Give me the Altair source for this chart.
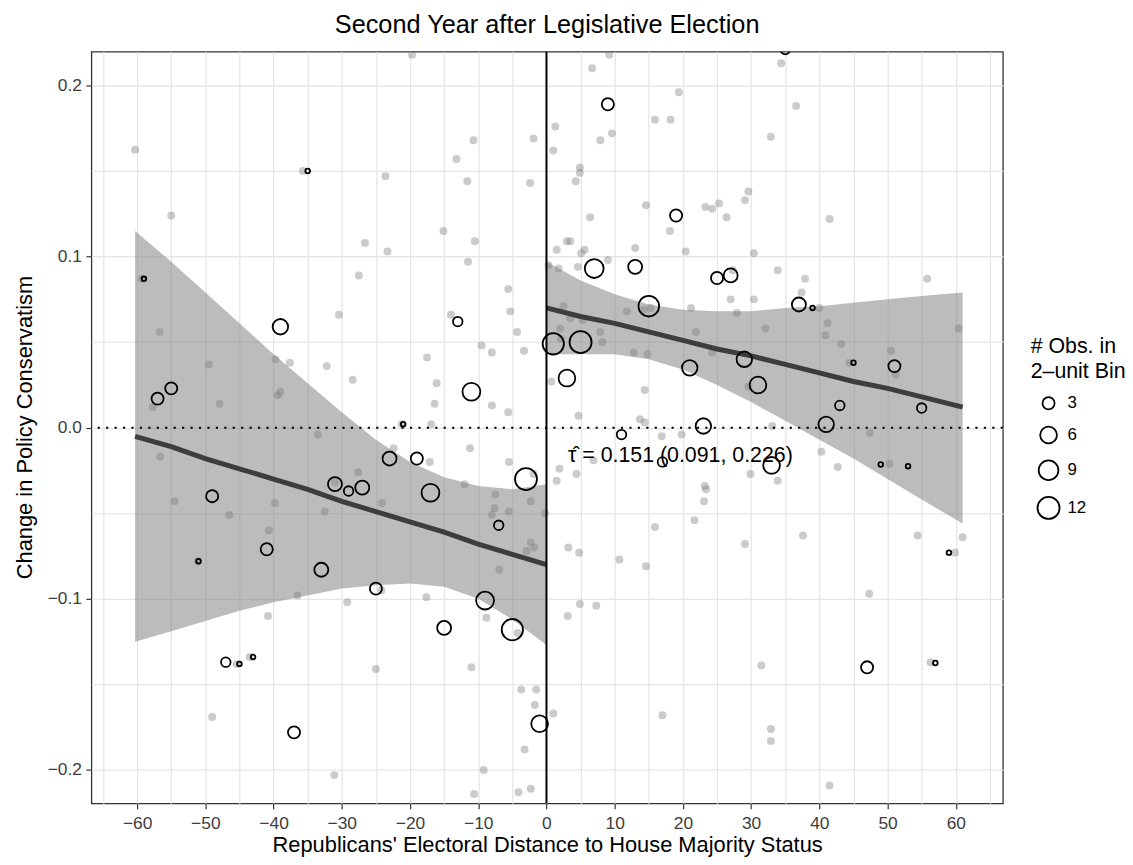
import altair as alt
import pandas as pd

FONT = "Liberation Sans"

# ---- binned means (2-unit bins) ----
bin_x = [-59, -57, -55, -51, -49, -47, -45, -43, -41, -39, -37, -35, -33, -31, -29, -27, -25, -23, -21, -19,
         -17, -15, -13, -11, -9, -7, -5, -3, -1,
         1, 3, 5, 7, 9, 11, 13, 15, 17, 19, 21, 23, 25, 27, 29, 31, 33, 35, 37, 39,
         41, 43, 45, 47, 49, 51, 53, 55, 57, 59]
bin_y = [0.087, 0.017, 0.023, -0.078, -0.040, -0.137, -0.138, -0.134, -0.071, 0.059,
         -0.178, 0.150, -0.083, -0.033, -0.037, -0.035, -0.094, -0.018, 0.002, -0.018,
         -0.038, -0.117, 0.062, 0.021, -0.101, -0.057, -0.118, -0.030, -0.173,
         0.049, 0.029, 0.050, 0.093, 0.189, -0.004, 0.094, 0.071, -0.020, 0.124,
         0.035, 0.001, 0.0875, 0.089, 0.040, 0.025, -0.022, 0.221, 0.072, 0.070,
         0.002, 0.013, 0.038, -0.140, -0.0215, 0.036, -0.0225, 0.0115, -0.1375, -0.073]
bin_n = [1, 3, 3, 1, 3, 2, 1, 1, 3, 5, 3, 1, 4, 4, 2, 4, 3, 4, 1, 3, 7, 4, 2, 7, 7, 2, 11, 12, 6,
         11, 6, 12, 8, 3, 2, 4, 10, 2, 3, 5, 5, 3, 4, 5, 6, 6, 2, 4, 1, 5, 2, 1, 3, 1, 3, 1, 2, 1, 1]

# ---- raw observations ----
obs_x = [-60.3, -55.0, -35.7, -23.6, -26.6, -27.5, -30.4, -23.3, -59.3, -56.7, -49.5, -47.9, -57.7, -39.7,
         -37.6, -39.4, -39.0, -32.2, -28.4, -33.5, -19.7, -10.7, -13.2, -11.6, -1.9, -2.4, -15.1, -10.5,
         -11.5, -5.6, -5.3, -14.0, -4.3, -9.5, -8.0, -3.3, -17.5, -16.1, -16.4, -8.0, -5.6, -16.9, -21.2,
         -56.6, -54.5, -46.5, -39.8, -40.7, -32.5, -27.6, -31.0, -24.1, -51.1, -36.5, -29.2, -40.8, -24.2,
         -43.5, -45.4, -25.0, -49.0, -31.1, -22.4, -11.2, -17.1, -5.5, -1.9, -12.0, -7.5, -7.6, -8.0, -5.5,
         -2.3, -0.2, -2.3, -2.9, -1.8, -6.9, -17.6, -8.8, -4.2, -11.0, -3.7, -1.5, -1.7, -3.2, -9.2, -10.6,
         -4.1, -2.3,
         9.2, 6.7, 1.3, 1.0, 9.6, 7.9, 15.9, 4.9, 4.9, 4.3, 14.6, 6.4, 3.0, 3.5, 1.5, 5.1, 5.6, 13.0, 9.0,
         4.6, 0.3, 1.8, 2.5, 3.5, 5.3, 2.0, 2.1, 7.9, 8.2, 11.8, 14.3, 15.3, 12.8, 14.8, 0.7, 4.7, 14.4,
         13.7, 14.4, 16.9, 34.4, 19.4, 18.2, 36.6, 32.9, 23.3, 24.3, 25.3, 26.4, 29.6, 29.1, 18.1, 20.4,
         30.4, 41.5, 27.3, 33.9, 37.9, 37.4, 27.0, 30.4, 27.9, 21.2, 21.9, 32.1, 40.0, 41.2, 40.9, 43.2,
         50.5, 51.2, 55.8, 60.4, 24.3, 29.6, 44.4, 19.8, 33.1, 47.4, 1.5, 1.9, 4.4, 6.9, 3.2, 4.8, 10.7,
         14.6, 15.9, 4.9, 7.3, 3.1, 1.0, 17.0, 40.3, 42.7, 29.9, 33.9, 23.2, 23.4, 23.1, 21.7, 29.1, 37.6,
         50.3, 54.4, 61.0, 59.9, 47.3, 31.5, 56.3, 32.9, 32.9, 41.5]
obs_y = [0.1625, 0.124, 0.150, 0.147, 0.108, 0.089, 0.066, 0.103, 0.087, 0.056, 0.037, 0.014, 0.012, 0.040,
         0.038, 0.019, 0.021, 0.036, 0.028, -0.004, 0.218, 0.168, 0.157, 0.144, 0.169, 0.143, 0.115, 0.109,
         0.097, 0.081, 0.068, 0.066, 0.056, 0.048, 0.044, 0.045, 0.041, 0.026, 0.014, 0.013, 0.009, 0.002, 0.002,
         -0.017, -0.043, -0.051, -0.044, -0.060, -0.049, -0.026, -0.032, -0.044, -0.078, -0.098, -0.102, -0.110, -0.095,
         -0.134, -0.138, -0.141, -0.169, -0.203, -0.012, -0.012, -0.020, -0.020, -0.027, -0.033, -0.039, -0.047, -0.051, -0.049,
         -0.043, -0.050, -0.067, -0.072, -0.070, -0.083, -0.099, -0.111, -0.120, -0.140, -0.153, -0.153, -0.162, -0.188, -0.200, -0.214,
         -0.213, -0.211,
         0.218, 0.210, 0.176, 0.162, 0.172, 0.168, 0.180, 0.152, 0.149, 0.144, 0.130, 0.123, 0.109, 0.109, 0.104, 0.102, 0.104, 0.105, 0.098,
         0.094, 0.095, 0.093, 0.071, 0.064, 0.063, 0.058, 0.052, 0.056, 0.050, 0.068, 0.069, 0.070, 0.044, 0.043, 0.027, 0.007, 0.022,
         0.005, 0.003, -0.005, 0.213, 0.196, 0.180, 0.188, 0.170, 0.129, 0.128, 0.131, 0.123, 0.138, 0.133, 0.115, 0.103,
         0.102, 0.122, 0.092, 0.092, 0.087, 0.079, 0.075, 0.075, 0.067, 0.070, 0.056, 0.058, 0.070, 0.061, 0.054, 0.049,
         0.045, 0.031, 0.087, 0.058, 0.044, 0.024, 0.038, -0.004, 0.001, -0.003, -0.031, -0.024, -0.027, -0.019, -0.070, -0.073, -0.077,
         -0.081, -0.058, -0.103, -0.104, -0.110, -0.167, -0.168, -0.014, -0.023, -0.027, -0.031, -0.034, -0.036, -0.043, -0.054, -0.068, -0.063,
         -0.021, -0.063, -0.064, -0.073, -0.097, -0.139, -0.137, -0.176, -0.183, -0.209]

# ---- local linear fits with 95% bands ----
left_x = [-60.3, -55, -50, -45, -40, -35, -30, -25, -20, -15, -10, -5, 0]
left_fit = [-0.005, -0.011, -0.018, -0.024, -0.030, -0.036, -0.043, -0.049, -0.055, -0.061, -0.068, -0.074, -0.080]
left_hi = [0.115, 0.097, 0.079, 0.061, 0.043, 0.026, 0.009, -0.007, -0.020, -0.029, -0.034, -0.036, -0.033]
left_lo = [-0.125, -0.119, -0.113, -0.107, -0.102, -0.098, -0.094, -0.092, -0.091, -0.093, -0.100, -0.112, -0.127]

right_x = [0, 5, 10, 15, 20, 25, 30, 35, 40, 45, 50, 55, 61]
right_fit = [0.070, 0.065, 0.061, 0.056, 0.051, 0.046, 0.042, 0.037, 0.032, 0.027, 0.023, 0.018, 0.012]
right_hi = [0.097, 0.086, 0.078, 0.072, 0.069, 0.068, 0.068, 0.070, 0.071, 0.073, 0.075, 0.077, 0.079]
right_lo = [0.043, 0.043, 0.043, 0.040, 0.034, 0.025, 0.015, 0.004, -0.007, -0.018, -0.030, -0.042, -0.056]

ann_x = [3.15]
ann_y = [-0.0199]
ann_text = ["\u03c4\u0302 = 0.151 (0.091, 0.226)"]

x_grid = [-65, -60, -55, -50, -45, -40, -35, -30, -25, -20, -15, -10, -5, 0,
          5, 10, 15, 20, 25, 30, 35, 40, 45, 50, 55, 60, 65]
y_grid = [-0.2, -0.15, -0.1, -0.05, 0.0, 0.05, 0.1, 0.15, 0.2]

# ---- tables ----
bins = pd.DataFrame({"x": bin_x, "y": bin_y, "n": bin_n})
obs = pd.DataFrame({"x": obs_x, "y": obs_y})
fit = pd.DataFrame({
    "x": left_x + right_x,
    "fit": left_fit + right_fit,
    "lo": left_lo + right_lo,
    "hi": left_hi + right_hi,
    "side": ["left"] * len(left_x) + ["right"] * len(right_x),
})
ann = pd.DataFrame({"x": ann_x, "y": ann_y, "t": ann_text})
zero = pd.DataFrame({"z": [0]})

xs = alt.Scale(domain=[-66.7, 66.9], nice=False, zero=False)
ys = alt.Scale(domain=[-0.2195, 0.2197], nice=False, zero=False)

x_axis = alt.Axis(
    values=x_grid, format="d",
    labelExpr="datum.value % 10 === 0 ? datum.label : ''",
    tickOpacity={"condition": {"test": "datum.value % 10 !== 0", "value": 0}, "value": 1},
    title="Republicans' Electoral Distance to House Majority Status",
    titleX=459, titleY=48, titleAlign="center", titleBaseline="alphabetic",
    labelFlush=False, labelOverlap=False, labelPadding=6,
)
y_axis = alt.Axis(
    values=y_grid, format=".1f",
    labelExpr="round(datum.value * 20) % 2 === 0 ? datum.label : ''",
    tickOpacity={"condition": {"test": "round(datum.value * 20) % 2 !== 0", "value": 0}, "value": 1},
    title="Change in Policy Conservatism",
    titleAngle=270, titleX=-60, titleY=378, titleAlign="center", titleBaseline="alphabetic",
    labelFlush=False, labelOverlap=False, labelPadding=4.5,
)

X = alt.X("x:Q", scale=xs, axis=x_axis)
Y = alt.Y("y:Q", scale=ys, axis=y_axis)

dots = alt.Chart(obs).mark_circle(size=64, color="#777777", opacity=0.38, clip=True).encode(x=X, y=Y)

ribbon = alt.Chart(fit).mark_area(color="#7a7a7a", opacity=0.5, clip=True).encode(
    x=alt.X("x:Q", scale=xs, axis=x_axis),
    y=alt.Y("lo:Q", scale=ys, axis=y_axis),
    y2="hi:Q",
    detail="side:N",
)
line = alt.Chart(fit).mark_line(color="#3d3d3d", strokeWidth=5, clip=True).encode(
    x=alt.X("x:Q", scale=xs, axis=x_axis),
    y=alt.Y("fit:Q", scale=ys, axis=y_axis),
    detail="side:N",
)

vline = alt.Chart(zero).mark_rule(color="black", strokeWidth=2).encode(
    x=alt.X("z:Q", scale=xs, axis=x_axis))
hline = alt.Chart(zero).mark_rule(color="black", strokeWidth=2.2, strokeDash=[2.2, 6.3]).encode(
    y=alt.Y("z:Q", scale=ys, axis=y_axis))

circles = alt.Chart(bins).mark_point(
    shape="circle", filled=False, color="black", strokeWidth=1.8, opacity=1, clip=True
).encode(
    x=X, y=Y,
    size=alt.Size(
        "n:Q",
        scale=alt.Scale(type="pow", exponent=0.6, domain=[1, 12], range=[22, 491], zero=False),
        legend=alt.Legend(
            title=["# Obs. in", "2\u2013unit Bin"], values=[3, 6, 9, 12],
            orient="none", legendX=946, legendY=286,
            titleFontSize=21.5, titleFont=FONT, titleFontWeight="normal", titleColor="black",
            titleLineHeight=26, titlePadding=12,
            labelFontSize=17, labelFont=FONT, labelColor="black", labelOffset=7,
            symbolStrokeColor="black", symbolStrokeWidth=1.8, symbolType="circle",
            symbolOffset=6, rowPadding=9, padding=0,
        ),
    ),
)

text = alt.Chart(ann).mark_text(
    align="left", baseline="alphabetic", fontSize=21.5, font=FONT, color="black"
).encode(x=X, y=Y, text="t:N")

chart = alt.layer(dots, ribbon, line, hline, vline, circles, text).properties(
    width=918, height=757,
    padding={"left": 84, "top": 41, "right": 123, "bottom": 54},
    autosize=alt.AutoSizeParams(type="none"),
    title=alt.TitleParams(
        "Second Year after Legislative Election", fontSize=25.5, font=FONT, fontWeight="normal",
        color="black", anchor="middle", baseline="alphabetic", offset=-8,
    ),
).configure_view(
    stroke="#333333", strokeWidth=1.3
).configure_axis(
    domain=False, grid=True, gridColor="#e6e6e6", gridWidth=1.3,
    tickColor="#333333", tickWidth=1.2, tickSize=5.5,
    labelFont=FONT, labelFontSize=17.5, labelColor="#3d3d3d", labelPadding=4,
    titleFont=FONT, titleFontSize=22, titleFontWeight="normal", titleColor="black",
)

chart.save("out.html", embed_options={"renderer": "svg", "actions": False})
